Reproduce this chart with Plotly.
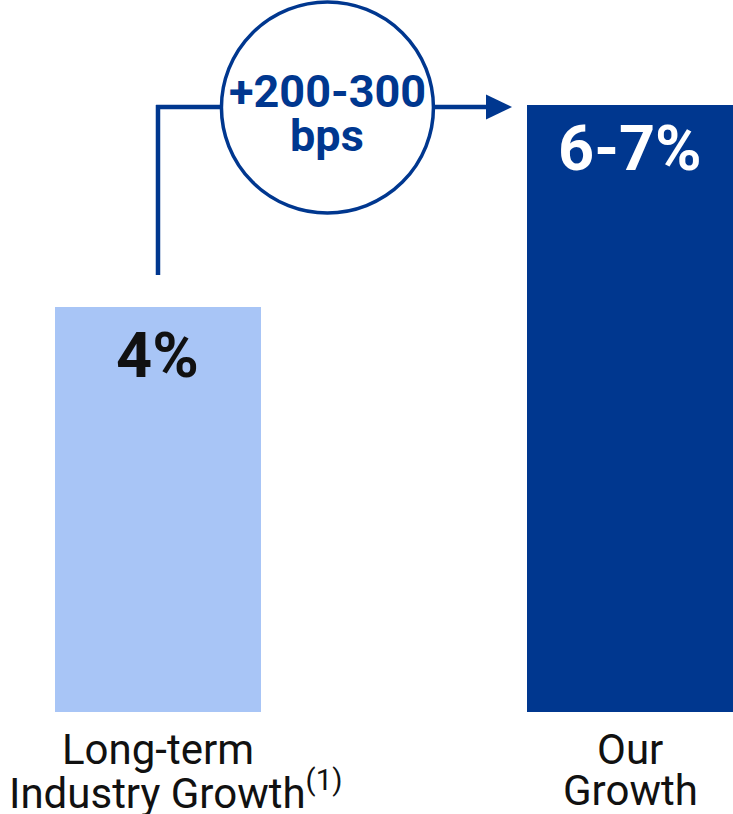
import plotly.graph_objects as go

# Data
categories = ["Long-term Industry Growth", "Our Growth"]
label_lines = [["Long-term", "Industry Growth<sup>(1)</sup>"], ["Our", "Growth"]]
values = [4, 6]
value_labels = ["4%", "6-7%"]
uplift_lines = ["+200-300", "bps"]

NAVY = "#00378f"
LIGHT = "#a8c5f6"
FONT = "Roboto"

x_pos = [0, 1]
bar_width = 0.4364

fig = go.Figure()
fig.add_trace(go.Bar(
    x=x_pos, y=values, width=bar_width,
    marker=dict(color=[LIGHT, NAVY], line=dict(width=0)),
    hoverinfo="skip", showlegend=False,
))

# value labels inside the bars
label_colors = ["#111111", "#ffffff"]
label_shift = [-48, -43]
for xi, v, txt, col, sh in zip(x_pos, values, value_labels, label_colors, label_shift):
    fig.add_annotation(x=xi, y=v, text=txt, showarrow=False, yanchor="middle",
                       yshift=sh, font=dict(family=FONT, size=63, color=col, weight=700))

# category labels below the bars
line_shift = [-37, -78]
x_nudge = [[0, 18], [0, 0]]
for xi, lines, nudges in zip(x_pos, label_lines, x_nudge):
    for ln, ys, xs in zip(lines, line_shift, nudges):
        fig.add_annotation(x=xi, y=0, text=ln, showarrow=False, yanchor="middle",
                           yshift=ys, xshift=xs,
                           font=dict(family=FONT, size=42, color="#111111"))

# connector from the first bar to the second, via the uplift badge
level = values[1]
badge_x = 0.359
arrow_tip = 0.75
fig.add_shape(type="line", xref="x", yref="y", x0=x_pos[0], x1=x_pos[0],
              ysizemode="pixel", yanchor=level, y0=0, y1=-170,
              line=dict(color=NAVY, width=4.5))
fig.add_shape(type="line", xref="x", yref="y", x0=x_pos[0] - 0.004, x1=arrow_tip - 0.03,
              ysizemode="pixel", yanchor=level, y0=-2, y1=-2,
              line=dict(color=NAVY, width=4.5))
fig.add_shape(type="path", xref="x", yref="y",
              xsizemode="pixel", xanchor=arrow_tip,
              ysizemode="pixel", yanchor=level,
              path="M -26,10.5 L 0,-2 L -26,-14.5 Z",
              fillcolor=NAVY, line=dict(color=NAVY, width=0))
fig.add_shape(type="circle", xref="x", yref="y",
              xsizemode="pixel", xanchor=badge_x, x0=-106, x1=106,
              ysizemode="pixel", yanchor=level, y0=-108, y1=103,
              fillcolor="white", line=dict(color=NAVY, width=3.5))

for txt, ys in zip(uplift_lines, [14, -30]):
    fig.add_annotation(x=badge_x, y=level, text=txt, showarrow=False, yanchor="middle",
                       yshift=ys, font=dict(family=FONT, size=45, color=NAVY, weight=700))

fig.update_layout(
    width=733, height=814,
    margin=dict(l=0, r=0, t=0, b=102),
    paper_bgcolor="white", plot_bgcolor="white",
    xaxis=dict(range=[-0.3347, 1.2182], visible=False, fixedrange=True),
    yaxis=dict(range=[0, 7.038], visible=False, fixedrange=True),
    bargap=0,
)

fig.write_html("out.html", config={"displayModeBar": False})
